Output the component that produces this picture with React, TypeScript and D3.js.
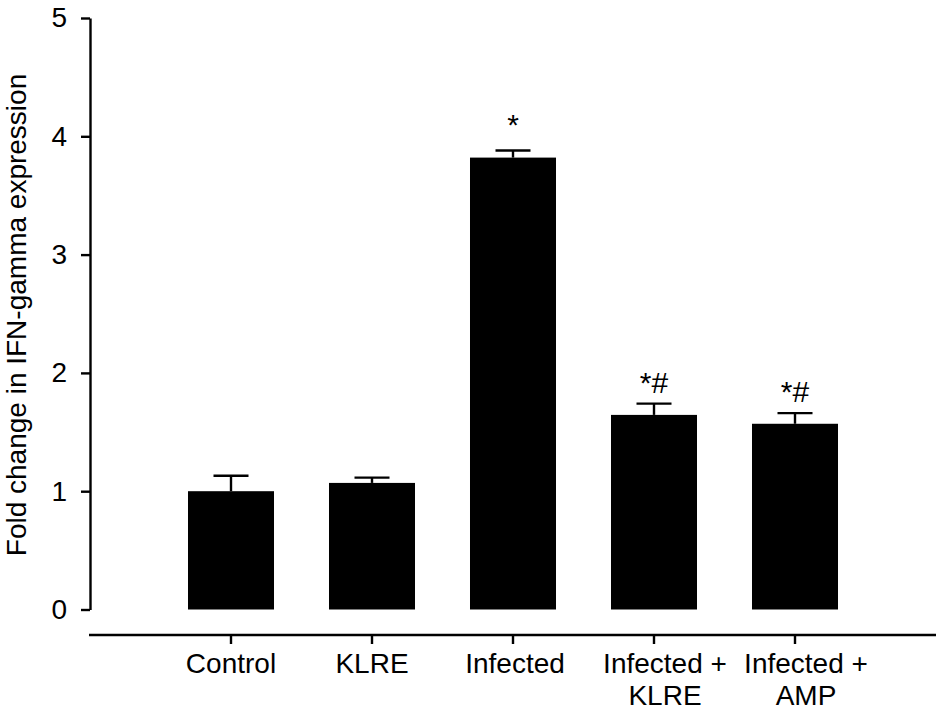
import { useEffect, useRef } from "react"
import * as d3 from "d3"

const categories = ["Control", "KLRE", "Infected", "Infected + KLRE", "Infected + AMP"]
const values = [1.0, 1.07, 3.82, 1.645, 1.57]
const errors = [0.13, 0.045, 0.06, 0.095, 0.09]
const marks = ["", "", "*", "*#", "*#"]
const yTicks = [0, 1, 2, 3, 4, 5]

const FONT = "'Liberation Sans', Arial, sans-serif"
const FONT_SIZE = 28

export default function App() {
  const svgRef = useRef<SVGSVGElement | null>(null)

  useEffect(() => {
    if (!svgRef.current) return
    const svg = d3.select(svgRef.current)
    svg.selectAll("*").remove()

    const y = d3.scaleLinear().domain([0, 5]).range([609.5, 18])
    const x = d3.scaleBand<string>().domain(categories).range([160.5, 865.5]).paddingInner(0.39).paddingOuter(0.195)
    const cx = (c: string) => (x(c) as number) + x.bandwidth() / 2

    // Y axis
    const yAxis = svg
      .append("g")
      .attr("transform", "translate(90,0)")
      .call(d3.axisLeft(y).tickValues(yTicks).tickFormat(d3.format("d")).tickSize(9).tickSizeOuter(0).tickPadding(14))
    yAxis.selectAll("path,line").attr("stroke", "#000").attr("stroke-width", 2.4)
    yAxis.selectAll("text").attr("font-family", FONT).attr("font-size", FONT_SIZE).attr("fill", "#000")

    // X axis
    const xAxisY = 635
    const xAxis = svg.append("g").attr("transform", `translate(0,${xAxisY})`)
    xAxis
      .append("line")
      .attr("x1", 89)
      .attr("x2", 936)
      .attr("stroke", "#000")
      .attr("stroke-width", 2.4)
    categories.forEach((c) => {
      xAxis
        .append("line")
        .attr("x1", cx(c))
        .attr("x2", cx(c))
        .attr("y1", 0)
        .attr("y2", 9)
        .attr("stroke", "#000")
        .attr("stroke-width", 2.4)

      // Long labels break after the plus sign and sit a bit right of the tick
      const long = c.includes(" + ")
      const parts = long ? [c.split(" + ")[0] + " +", c.split(" + ")[1]] : [c]
      const shift = long ? 11 : c === "Infected" ? 2 : 0
      parts.forEach((p, i) => {
        xAxis
          .append("text")
          .attr("x", cx(c) + shift)
          .attr("y", 38 + i * 32)
          .attr("text-anchor", "middle")
          .attr("font-family", FONT)
          .attr("font-size", FONT_SIZE)
          .attr("fill", "#000")
          .text(p)
      })
    })

    // Error bars, then the bars over them
    categories.forEach((c, i) => {
      const top = y(values[i] + errors[i])
      svg
        .append("line")
        .attr("x1", cx(c))
        .attr("x2", cx(c))
        .attr("y1", top)
        .attr("y2", y(values[i]))
        .attr("stroke", "#000")
        .attr("stroke-width", 2.4)
      svg
        .append("line")
        .attr("x1", cx(c) - 17.5)
        .attr("x2", cx(c) + 17.5)
        .attr("y1", top)
        .attr("y2", top)
        .attr("stroke", "#000")
        .attr("stroke-width", 2.4)
    })

    svg
      .selectAll(".bar")
      .data(categories)
      .enter()
      .append("rect")
      .attr("class", "bar")
      .attr("x", (c) => x(c) as number)
      .attr("width", x.bandwidth())
      .attr("y", (c, i) => y(values[i]))
      .attr("height", (c, i) => y(0) - y(values[i]))
      .attr("fill", "#000")

    // Significance marks
    categories.forEach((c, i) => {
      if (!marks[i]) return
      svg
        .append("text")
        .attr("x", cx(c))
        .attr("y", y(values[i] + errors[i]) - (marks[i] === "*" ? 15 : 11))
        .attr("text-anchor", "middle")
        .attr("font-family", FONT)
        .attr("font-size", 30)
        .attr("fill", "#000")
        .text(marks[i])
    })

    // Y axis title
    svg
      .append("text")
      .attr("transform", "translate(26,315) rotate(-90)")
      .attr("text-anchor", "middle")
      .attr("font-family", FONT)
      .attr("font-size", FONT_SIZE)
      .attr("fill", "#000")
      .text("Fold change in IFN-gamma expression")
  }, [])

  return (
    <svg
      ref={svgRef}
      width={945}
      height={710}
      style={{ position: "absolute", left: 0, top: 0, background: "#fff" }}
    />
  )
}
